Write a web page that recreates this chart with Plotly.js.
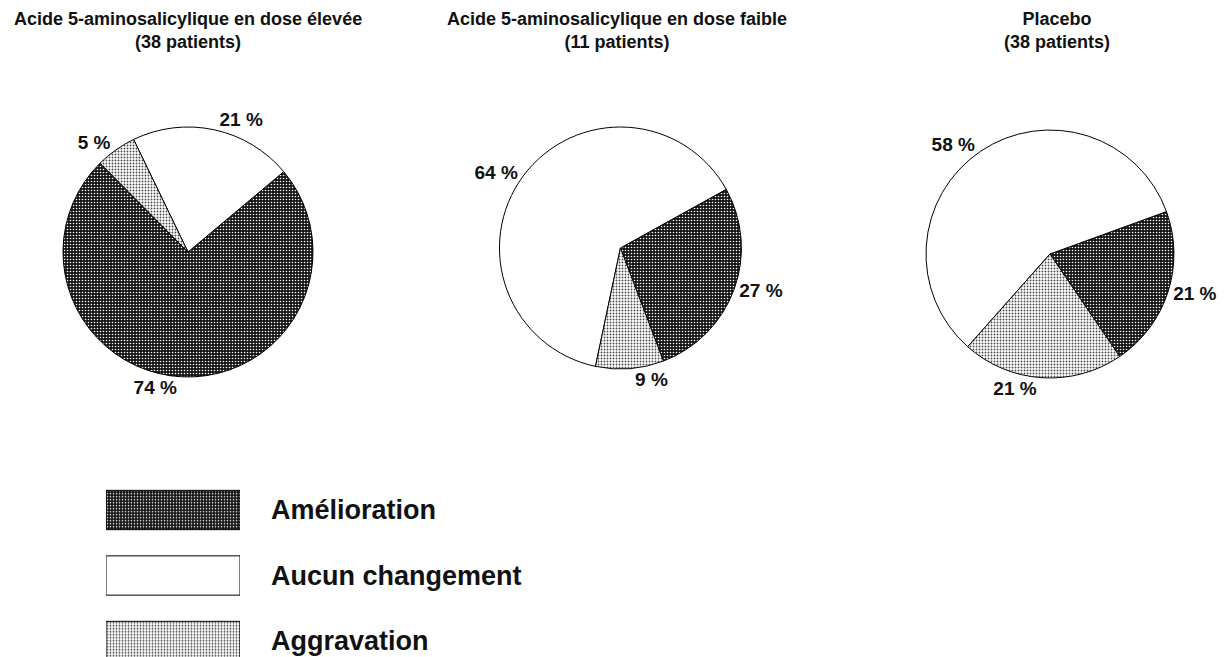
<!DOCTYPE html>
<html>
<head>
<meta charset="utf-8">
<script src="https://cdn.plot.ly/plotly-3.0.1.min.js"></script>
<style>html,body{margin:0;padding:0;background:#fff;}#chart{width:1232px;height:657px;}</style>
</head>
<body>
<div id="chart"></div>
<script>
// ---- data ----
const groups = ['Acide 5-aminosalicylique en dose élevée', 'Acide 5-aminosalicylique en dose faible', 'Placebo'];
const patients = [38, 11, 38];
const categories = ['Amélioration', 'Aucun changement', 'Aggravation'];
const countsHigh = [28, 8, 2];
const countsLow = [3, 7, 1];
const countsPlacebo = [8, 22, 8];
const legendKey = [1, 1, 1];

// ---- styles ----
const FONT = 'Liberation Sans, Arial, Helvetica, sans-serif';
const fillColors = ['#141414', '#ffffff', '#ffffff'];
const pattern = {
  shape: ['.', '', '.'],
  fillmode: 'overlay',
  fgcolor: ['#ffffff', '#ffffff', '#4a4a4a'],
  fgopacity: 1,
  size: 3,
  solidity: [0.22, 0.3, 0.3]
};

function pctText(vals) {
  const s = vals.reduce((a, b) => a + b, 0);
  return vals.map(v => Math.round(v / s * 100) + ' %');
}

const allCounts = [countsHigh, countsLow, countsPlacebo];
const domains = [
  {x: [0.0511, 0.2541], y: [0.4262, 0.8067]},
  {x: [0.4054, 0.6018], y: [0.4384, 0.8067]},
  {x: [0.7516, 0.9529], y: [0.4247, 0.8021]}
];
const titleCenters = [188, 617, 1057];
const rotations = [50, 61, 70];

const traces = allCounts.map((vals, i) => ({
  type: 'pie',
  labels: categories,
  values: vals,
  text: pctText(vals),
  textinfo: 'text',
  textposition: 'outside',
  outsidetextfont: {family: FONT, size: 19, color: '#111', weight: 'bold'},
  sort: false,
  direction: 'counterclockwise',
  rotation: rotations[i],
  domain: domains[i],
  marker: {colors: fillColors, line: {color: '#000', width: 1}, pattern: pattern},
  hoverinfo: 'none',
  showlegend: false
}));

// legend key drawn as patterned bars
traces.push({
  type: 'bar',
  orientation: 'h',
  y: categories,
  x: legendKey,
  xaxis: 'x',
  yaxis: 'y',
  marker: {color: fillColors, line: {color: '#000', width: 1}, pattern: pattern},
  hoverinfo: 'none',
  showlegend: false
});

const annotations = groups.map((g, i) => ({
  text: '<b>' + g + '</b><br><b>(' + patients[i] + ' patients)</b>',
  x: titleCenters[i] / 1232, y: 1 - 30 / 657,
  xref: 'paper', yref: 'paper', xanchor: 'center', yanchor: 'middle',
  showarrow: false, font: {family: FONT, size: 18, color: '#111'}
}));

// legend rows: first row centred at 510 px, 65.5 px apart
const rowPx = 65.5, topPx = 510 - rowPx / 2;
const layout = {
  width: 1232, height: 657,
  margin: {l: 0, r: 0, t: 0, b: 0},
  paper_bgcolor: '#fff', plot_bgcolor: '#fff',
  showlegend: false,
  bargap: 0.4,
  annotations: annotations,
  xaxis: {domain: [106 / 1232, 240 / 1232], range: [0, 1], visible: false, fixedrange: true},
  yaxis: {
    domain: [0, 1 - topPx / 657], range: [-0.5 + (657 - topPx) / rowPx, -0.5], type: 'category', side: 'right',
    showgrid: false, zeroline: false, showline: false, ticks: '',
    ticklabelstandoff: 30,
    tickfont: {family: FONT, size: 27, color: '#111', weight: 'bold'}
  }
};

Plotly.newPlot('chart', traces, layout, {displayModeBar: false, staticPlot: true});
</script>
</body>
</html>
